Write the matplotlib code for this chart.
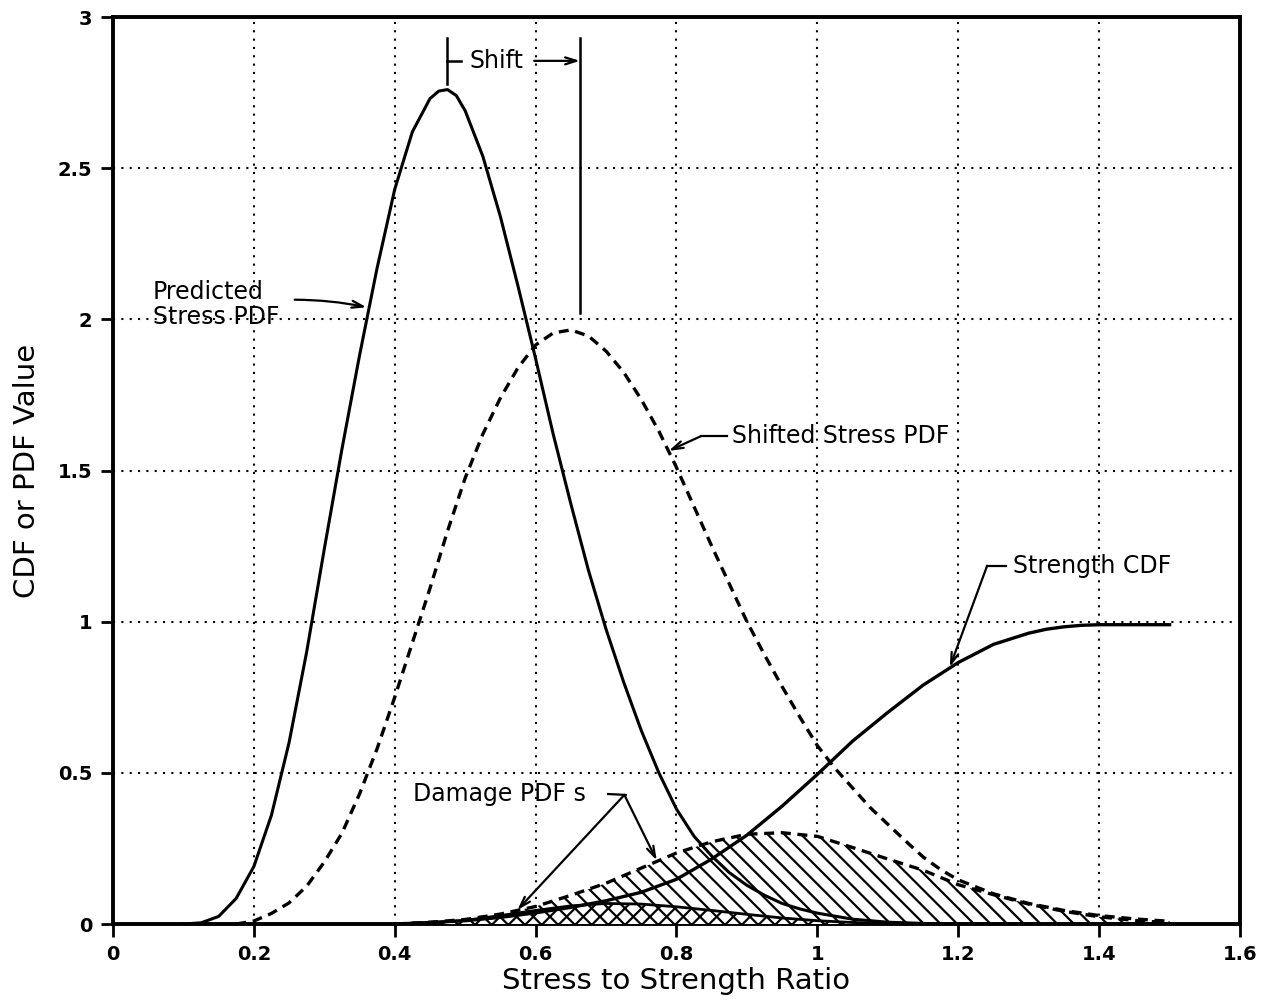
import matplotlib
matplotlib.use("Agg")
import matplotlib.pyplot as plt
from matplotlib.ticker import FormatStrFormatter, MultipleLocator

# values
x_pred = [0.10, 0.125, 0.15, 0.175, 0.20, 0.225, 0.25, 0.275, 0.30, 0.325, 0.35, 0.375,
          0.40, 0.425, 0.45, 0.4625, 0.475, 0.4875, 0.50, 0.525, 0.55, 0.575, 0.60, 0.625,
          0.65, 0.675, 0.70, 0.725, 0.75, 0.775, 0.80, 0.825, 0.85, 0.875, 0.90, 0.925,
          0.95, 0.975, 1.00, 1.05, 1.10, 1.15, 1.20, 1.50]
y_pred = [0.0, 0.004, 0.025, 0.085, 0.19, 0.36, 0.60, 0.90, 1.24, 1.57, 1.88, 2.17,
          2.43, 2.62, 2.73, 2.755, 2.76, 2.74, 2.69, 2.54, 2.34, 2.11, 1.87, 1.62,
          1.39, 1.17, 0.975, 0.80, 0.64, 0.50, 0.38, 0.29, 0.225, 0.17, 0.128, 0.095,
          0.068, 0.05, 0.036, 0.016, 0.006, 0.002, 0.0, 0.0]

x_shift = [0.175, 0.20, 0.225, 0.25, 0.275, 0.30, 0.325, 0.35, 0.375, 0.40, 0.425, 0.45,
           0.475, 0.50, 0.525, 0.55, 0.575, 0.60, 0.625, 0.65, 0.675, 0.70, 0.725, 0.75,
           0.775, 0.80, 0.825, 0.85, 0.875, 0.90, 0.925, 0.95, 0.975, 1.00, 1.025, 1.05,
           1.075, 1.10, 1.125, 1.15, 1.175, 1.20, 1.25, 1.30, 1.35, 1.40, 1.45, 1.50]
y_shift = [0.0, 0.01, 0.035, 0.07, 0.125, 0.205, 0.30, 0.43, 0.58, 0.75, 0.93, 1.11,
           1.30, 1.475, 1.62, 1.74, 1.84, 1.915, 1.955, 1.965, 1.945, 1.895, 1.825, 1.735,
           1.63, 1.51, 1.38, 1.25, 1.125, 1.0, 0.89, 0.785, 0.685, 0.59, 0.515, 0.45,
           0.385, 0.33, 0.275, 0.222, 0.18, 0.146, 0.10, 0.068, 0.045, 0.028, 0.017, 0.009]

x_cdf = [0.40, 0.45, 0.50, 0.55, 0.60, 0.65, 0.70, 0.75, 0.80, 0.85, 0.90, 0.95,
         1.00, 1.05, 1.10, 1.15, 1.20, 1.25, 1.30, 1.325, 1.35, 1.375, 1.40, 1.45, 1.50]
y_cdf = [0.0, 0.005, 0.011, 0.022, 0.037, 0.055, 0.077, 0.105, 0.148, 0.215, 0.294, 0.39,
         0.495, 0.605, 0.70, 0.79, 0.865, 0.925, 0.962, 0.975, 0.983, 0.988, 0.99, 0.99, 0.99]

x_dmg = [0.40, 0.45, 0.50, 0.55, 0.60, 0.65, 0.70, 0.75, 0.80, 0.85, 0.90, 0.95,
         1.00, 1.05, 1.10, 1.15]
y_dmg_pred = [0.0, 0.004, 0.012, 0.028, 0.045, 0.06, 0.068, 0.066, 0.057, 0.045, 0.032, 0.02,
              0.011, 0.005, 0.002, 0.0]

x_dmg_shift = [0.40, 0.45, 0.50, 0.55, 0.60, 0.65, 0.70, 0.75, 0.80, 0.85, 0.90, 0.95,
               1.00, 1.05, 1.10, 1.15, 1.20, 1.25, 1.30, 1.35, 1.40, 1.45, 1.50]
y_dmg_shift = [0.0, 0.006, 0.015, 0.033, 0.058, 0.095, 0.135, 0.185, 0.235, 0.272, 0.297, 0.302,
               0.29, 0.253, 0.215, 0.178, 0.13, 0.097, 0.066, 0.042, 0.024, 0.012, 0.004]

plt.rcParams["hatch.linewidth"] = 1.6
plt.rcParams["font.family"] = "DejaVu Sans"

fig = plt.figure(figsize=(12.62, 10.07), dpi=100)
ax = fig.add_axes([0.0895, 0.0824, 0.8931, 0.9007])

dots = (0, (1, 3))
ax.grid(True, color="black", linestyle=dots, linewidth=1.5)
ax.set_axisbelow(True)

# damage PDFs
ax.fill_between(x_dmg_shift, 0, y_dmg_shift, facecolor="white", edgecolor="black",
                hatch="\\\\", linewidth=0, zorder=2)
ax.plot(x_dmg_shift, y_dmg_shift, color="black", lw=2.4, ls=(0, (3, 2)), zorder=3)
ax.fill_between(x_dmg, 0, y_dmg_pred, facecolor="white", edgecolor="black",
                hatch="xx", linewidth=0, zorder=4)
ax.plot(x_dmg, y_dmg_pred, color="black", lw=2.0, zorder=5)

# stress PDFs and strength CDF
ax.plot(x_pred, y_pred, color="black", lw=2.2, zorder=6)
ax.plot(x_shift, y_shift, color="black", lw=2.4, ls=(0, (3, 2)), zorder=6)
ax.plot(x_cdf, y_cdf, color="black", lw=2.4, zorder=6)

ax.set_xlim(0, 1.6)
ax.set_ylim(0, 3)
ax.xaxis.set_major_locator(MultipleLocator(0.2))
ax.yaxis.set_major_locator(MultipleLocator(0.5))
ax.xaxis.set_major_formatter(FormatStrFormatter("%g"))
ax.yaxis.set_major_formatter(FormatStrFormatter("%g"))
ax.tick_params(direction="out", length=9, width=2, labelsize=14, pad=6)
for lab in ax.get_xticklabels() + ax.get_yticklabels():
    lab.set_fontweight("bold")
for sp in ax.spines.values():
    sp.set_linewidth(2.8)

ax.set_xlabel("Stress to Strength Ratio", fontsize=21, labelpad=2)
ax.set_ylabel("CDF or PDF Value", fontsize=21, labelpad=12)

ann = dict(fontsize=17, color="black", zorder=8)
arrow = dict(arrowstyle="->,head_length=0.8,head_width=0.25", color="black", lw=1.6,
             shrinkA=0, shrinkB=0)

# shift bracket
ax.plot([0.474, 0.474], [2.78, 2.93], color="black", lw=1.8, clip_on=False)
ax.plot([0.663, 0.663], [2.02, 2.93], color="black", lw=1.8, clip_on=False)
ax.plot([0.474, 0.494], [2.855, 2.855], color="black", lw=1.8)
ax.text(0.545, 2.855, "Shift", ha="center", va="center", **ann)
ax.annotate("", xy=(0.663, 2.855), xytext=(0.598, 2.855), arrowprops=arrow)

ax.text(0.057, 2.05, "Predicted\nStress PDF", ha="left", va="center", linespacing=1.05, **ann)
ax.annotate("", xy=(0.36, 2.04), xytext=(0.258, 2.065),
            arrowprops=dict(arrow, connectionstyle="arc3,rad=-0.05"))

ax.text(0.879, 1.614, "Shifted Stress PDF", ha="left", va="center", **ann)
ax.plot([0.872, 0.835], [1.614, 1.614], color="black", lw=1.6)
ax.annotate("", xy=(0.789, 1.565), xytext=(0.835, 1.614), arrowprops=arrow)

ax.text(1.278, 1.185, "Strength CDF", ha="left", va="center", **ann)
ax.plot([1.268, 1.241], [1.185, 1.185], color="black", lw=1.6)
ax.annotate("", xy=(1.188, 0.85), xytext=(1.241, 1.185), arrowprops=arrow)

ax.text(0.426, 0.43, "Damage PDF s", ha="left", va="center", **ann)
ax.plot([0.703, 0.728], [0.43, 0.427], color="black", lw=1.6)
ax.annotate("", xy=(0.574, 0.046), xytext=(0.726, 0.427), arrowprops=arrow)
ax.annotate("", xy=(0.772, 0.21), xytext=(0.726, 0.427), arrowprops=arrow)

fig.savefig("out.png", dpi=100)
